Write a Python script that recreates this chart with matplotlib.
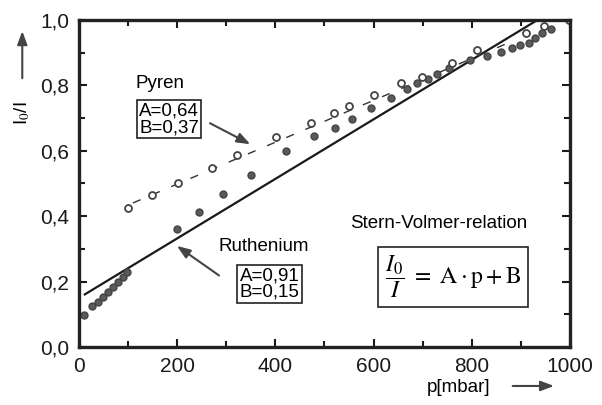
import numpy as np
import matplotlib.pyplot as plt
from matplotlib.ticker import MultipleLocator, FuncFormatter

plt.rcParams['font.family'] = ['Liberation Sans', 'DejaVu Sans']
plt.rcParams['mathtext.fontset'] = 'stix'

# Pyren (open markers)
p_pyren = [100, 148, 201, 272, 321, 402, 473, 520, 550, 601, 656, 699, 760, 810, 910, 946, 997]
i_pyren = [0.425, 0.465, 0.50, 0.547, 0.587, 0.643, 0.685, 0.715, 0.737, 0.771, 0.807, 0.826,
           0.869, 0.908, 0.96, 0.98, 1.0]

# Ruthenium (filled markers)
p_ruth = [10, 27, 39, 49, 59, 69, 79, 89, 99, 199, 245, 293, 351, 422, 479, 522, 556, 594,
          635, 668, 689, 710, 729, 753, 797, 831, 859, 882, 899, 916, 929, 943, 962]
i_ruth = [0.098, 0.125, 0.138, 0.153, 0.168, 0.184, 0.198, 0.214, 0.229, 0.36, 0.413, 0.468,
          0.526, 0.60, 0.645, 0.67, 0.697, 0.73, 0.76, 0.79, 0.807, 0.82, 0.835, 0.853, 0.878,
          0.89, 0.902, 0.914, 0.924, 0.93, 0.945, 0.96, 0.972]

# fit parameters (Stern-Volmer)
A_pyren, B_pyren = 0.64, 0.37
A_ruth, B_ruth = 0.91, 0.15
fit_pyren_p = np.array([110, 890])
fit_ruth_p = np.array([12, 934])

fig = plt.figure(figsize=(6.02, 4.05), dpi=100)
ax = fig.add_axes([0.131, 0.143, 0.816, 0.808])

ax.plot(fit_ruth_p, B_ruth + A_ruth * fit_ruth_p / 1000, color='#1a1a1a', lw=1.6)
ax.plot(fit_pyren_p, B_pyren + A_pyren * fit_pyren_p / 1000, color='#333333', lw=1.0,
        dashes=(6, 9))
ax.plot(p_ruth, i_ruth, 'o', color='#5a5a5a', ms=5, mec='#444444')
ax.plot(p_pyren, i_pyren, 'o', mfc='white', mec='#444444', mew=1.3, ms=5)

ax.set_xlim(0, 1000)
ax.set_ylim(0, 1.0)
ax.xaxis.set_major_locator(MultipleLocator(200))
ax.xaxis.set_minor_locator(MultipleLocator(100))
ax.yaxis.set_major_locator(MultipleLocator(0.2))
ax.yaxis.set_minor_locator(MultipleLocator(0.1))
ax.yaxis.set_major_formatter(FuncFormatter(lambda v, _: f"{v:.1f}".replace('.', ',')))
ax.tick_params(which='both', direction='in', top=True, right=True, width=1.5,
               labelsize=15, colors='#1a1a1a')
ax.tick_params(which='major', length=6, pad=7)
ax.tick_params(which='minor', length=4)
for s in ax.spines.values():
    s.set_linewidth(2.4)
    s.set_color('#222222')

arrow = dict(arrowstyle='-|>,head_length=0.8,head_width=0.3', color='#444444', lw=1.5)

# annotations
ax.text(166, 0.805, 'Pyren', ha='center', va='center', fontsize=13.5)
ax.text(184, 0.696, 'A=0,64\nB=0,37', ha='center', va='center', fontsize=13.5, linespacing=0.95,
        bbox=dict(boxstyle='square,pad=0.12', fc='white', ec='#222222', lw=1.2))
ax.annotate('', xy=(354, 0.616), xytext=(262, 0.688), arrowprops=arrow)

ax.text(376, 0.306, 'Ruthenium', ha='center', va='center', fontsize=13.5)
ax.text(388, 0.193, 'A=0,91\nB=0,15', ha='center', va='center', fontsize=13.5, linespacing=0.95,
        bbox=dict(boxstyle='square,pad=0.12', fc='white', ec='#222222', lw=1.2))
ax.annotate('', xy=(195, 0.314), xytext=(290, 0.214), arrowprops=arrow)

ax.text(733, 0.379, 'Stern-Volmer-relation', ha='center', va='center', fontsize=13.5)
ax.text(761, 0.214, r'$\dfrac{I_0}{I}\ =\ \mathrm{A}\cdot\mathrm{p}+\mathrm{B}$',
        ha='center', va='center', fontsize=17,
        bbox=dict(boxstyle='square,pad=0.3', fc='white', ec='#222222', lw=1.2))

# axis labels with arrows
fig.text(0.037, 0.72, 'I$_0$/I', rotation=90, ha='center', va='center', fontsize=13.5)
fig.text(0.761, 0.044, 'p[mbar]', ha='center', va='center', fontsize=13.5)
ax.annotate('', xy=(0.037, 0.93), xytext=(0.037, 0.80), xycoords='figure fraction',
            textcoords='figure fraction', arrowprops=arrow, annotation_clip=False)
ax.annotate('', xy=(0.925, 0.047), xytext=(0.847, 0.047), xycoords='figure fraction',
            textcoords='figure fraction', arrowprops=arrow, annotation_clip=False)

fig.savefig('out.png', dpi=100)
